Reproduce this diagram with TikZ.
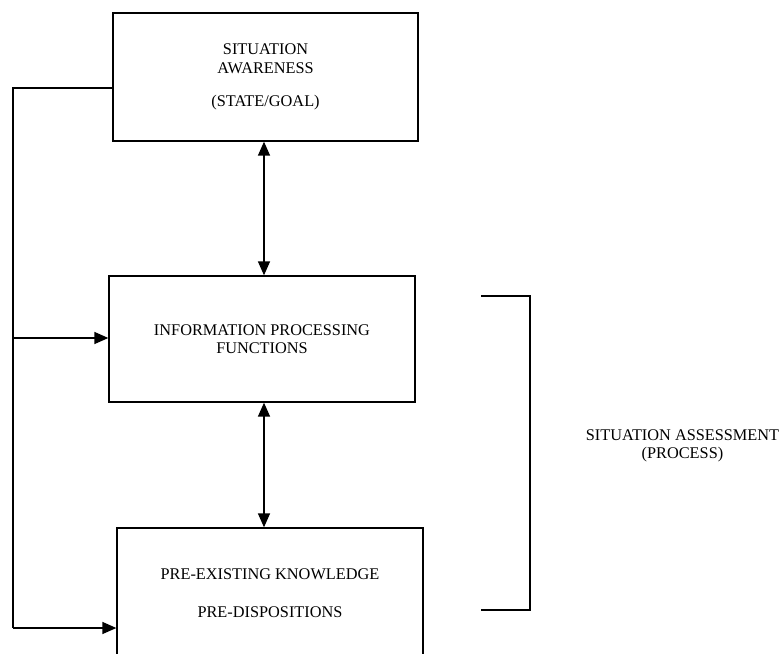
\documentclass[tikz,border=0pt]{standalone}
\usepackage{fontspec}
\setmainfont{Liberation Serif}
\usetikzlibrary{arrows.meta}
\begin{document}
\begin{tikzpicture}[x=1pt,y=-1pt,
  every node/.style={font=\fontsize{16.3}{18.5}\selectfont},
  box/.style={draw, line width=1.3pt, rectangle, align=center, inner sep=0pt},
  conn/.style={line width=1.4pt, -{Triangle[length=14pt,width=12pt]}},
  biconn/.style={line width=1.4pt, {Triangle[length=14pt,width=12pt]}-{Triangle[length=14pt,width=12pt]}},
  bracket/.style={line width=2.6pt, line cap=rect}]
  \clip (0,0) rectangle (780,654);
  \fill[white] (0,0) rectangle (780,654);

  % the three stages
  \node[box, minimum width=305pt, minimum height=128pt] (sa) at (265.5,77)
    {SITUATION\\AWARENESS\\[15pt](STATE/GOAL)};
  \node[box, minimum width=306pt, minimum height=126pt] (ipf) at (262,339)
    {INFORMATION PROCESSING\\FUNCTIONS};
  \node[box, minimum width=306pt, minimum height=130pt] (pk) at (270,593)
    {PRE-EXISTING KNOWLEDGE\\[19pt]PRE-DISPOSITIONS};

  % two-way links between the stages
  \coordinate (ax) at (264,0);
  \draw[biconn] (sa.south -| ax) -- (ipf.north -| ax);
  \draw[biconn] (ipf.south -| ax) -- (pk.north -| ax);

  % feedback rail on the left
  \coordinate (tap) at (13,88);
  \coordinate (mid) at (13,338);
  \coordinate (bot) at (13,628);
  \draw[line width=1.4pt] (tap -| sa.west) -- (tap) -- (bot);
  \draw[conn] (bot) -- (bot -| pk.west);
  \draw[conn] (mid) -- (mid -| ipf.west);

  % bracket spanning the process stages
  \coordinate (bt) at (482,296);
  \coordinate (bb) at (482,610);
  \draw[bracket] (bt) -- ++(48,0) |- (bb);
  \node[align=center] (sass) at (682.5,446) {SITUATION ASSESSMENT\\(PROCESS)};
\end{tikzpicture}
\end{document}
